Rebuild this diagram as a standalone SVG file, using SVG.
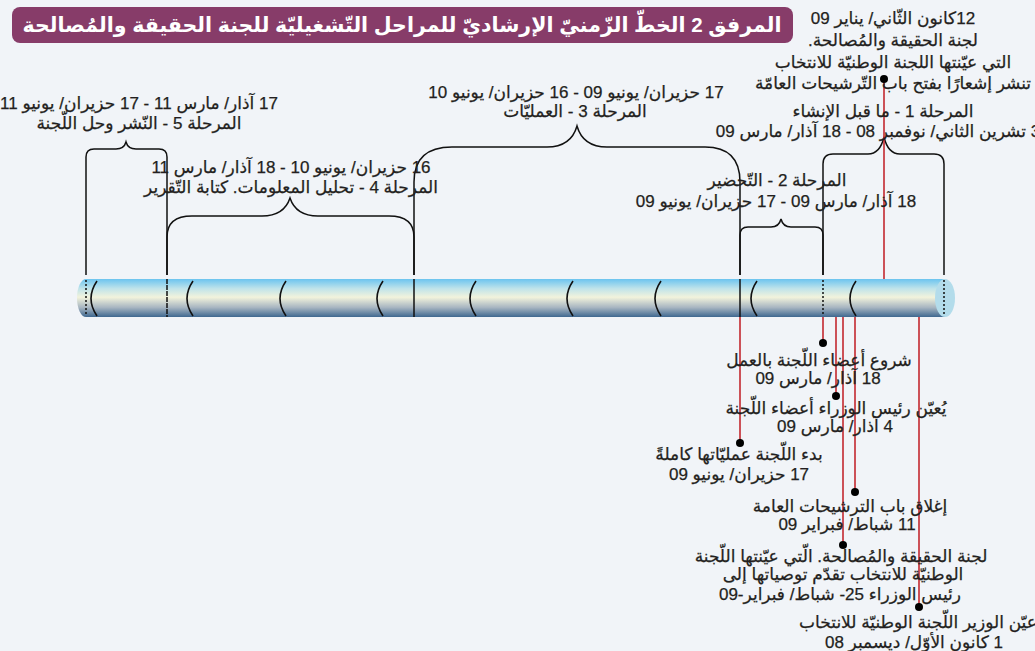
<svg xmlns="http://www.w3.org/2000/svg" width="1035" height="651" viewBox="0 0 1035 651">
<defs>
<linearGradient id="bar" x1="0" y1="0" x2="0" y2="1">
<stop offset="0" stop-color="#6cc4ef"/>
<stop offset="0.25" stop-color="#bfe3ea"/>
<stop offset="0.48" stop-color="#f2f3dc"/>
<stop offset="0.75" stop-color="#a7b5c1"/>
<stop offset="1" stop-color="#3f6890"/>
</linearGradient>
<style>
.t{font-family:"Liberation Sans","DejaVu Sans",sans-serif;font-size:17px;fill:#231f20;stroke:#231f20;stroke-width:0.25;text-anchor:middle;direction:rtl;unicode-bidi:embed}
.title{font-family:"Liberation Sans","DejaVu Sans",sans-serif;font-size:20.5px;font-weight:bold;fill:#fff;text-anchor:middle;direction:rtl;unicode-bidi:embed}
.br{fill:none;stroke:#111;stroke-width:1.5}
.arc{fill:none;stroke:#111;stroke-width:1.6}
.red{stroke:#c3282f;stroke-width:1.6;fill:none}
.dot{fill:#000}
</style>
</defs>
<rect width="1035" height="651" fill="#f1f4f8"/>
<g id="title">
<rect x="12" y="7" width="781" height="36" rx="8" fill="#873c69"/>
<text class="title" x="402" y="32">المرفق 2 الخطّ الزّمنيّ الإرشاديّ للمراحل التّشغيليّة للجنة الحقيقة والمُصالحة</text>
</g>
<g id="timeline">
<path d="M86,279 H945 V317 H86 A9,19 0 0 1 86,279 Z" fill="url(#bar)"/>
<ellipse cx="945" cy="298" rx="10" ry="19" fill="#b3dceb"/>
<path class="arc" d="M97,281 Q85,298.5 97,316 M193,281 Q181,298.5 193,316 M286,281 Q274,298.5 286,316 M383,281 Q371,298.5 383,316 M476,281 Q464,298.5 476,316 M573,281 Q561,298.5 573,316 M661,281 Q649,298.5 661,316 M757,281 Q745,298.5 757,316 M856,281 Q844,298.5 856,316"/>
<g stroke="#111" stroke-width="1.5">
<line x1="86" y1="280" x2="86" y2="316" stroke-dasharray="2,2"/>
<line x1="167" y1="279" x2="167" y2="317" stroke-dasharray="5,1"/>
<line x1="414" y1="279" x2="414" y2="317"/>
<line x1="740" y1="279" x2="740" y2="317"/>
<line x1="823" y1="280" x2="823" y2="316" stroke-dasharray="2,2"/>
<line x1="944" y1="280" x2="944" y2="316" stroke-dasharray="2,2"/>
</g>
</g>
<g id="connectors">
<path class="br" d="M86,275 V157 Q86,149 94,149 H116 Q124,149 126,142 Q128,149 136,149 H159 Q167,149 167,157 V275"/>
<path class="br" d="M167,275 V237 Q167,216 192,216 H262 Q284,216 290,198 Q296,216 318,216 H389 Q414,216 414,237 V275"/>
<path class="br" d="M414,275 V182 Q414,147 452,147 H547 Q571,147 577,126 Q583,147 607,147 H705 Q740,147 740,182 V275"/>
<path class="br" d="M740,275 V235 Q740,227 748,227 H771 Q779,227 781,219 Q783,227 791,227 H815 Q823,227 823,235 V275"/>
<path class="br" d="M823,275 V164 Q823,154 833,154 H868 Q880,154 884,137 Q888,154 900,154 H934 Q944,154 944,164 V275"/>
<line class="red" x1="884" y1="79" x2="884" y2="279"/>
<line class="red" x1="740" y1="317" x2="740" y2="443"/>
<line class="red" x1="823" y1="317" x2="823" y2="343"/>
<line class="red" x1="836" y1="317" x2="836" y2="396"/>
<line class="red" x1="843" y1="317" x2="843" y2="545"/>
<line class="red" x1="855" y1="317" x2="855" y2="492"/>
<line class="red" x1="919" y1="317" x2="919" y2="607"/>
<circle class="dot" cx="884" cy="79" r="4"/>
<circle class="dot" cx="823" cy="343" r="4"/>
<circle class="dot" cx="836" cy="396" r="4"/>
<circle class="dot" cx="740" cy="443" r="4"/>
<circle class="dot" cx="855" cy="492" r="4"/>
<circle class="dot" cx="843" cy="545" r="4"/>
<circle class="dot" cx="919" cy="607" r="4"/>
</g>
<g id="event-jan09">
<text class="t" x="893" y="24">12كانون الثّاني/ يناير 09</text>
<text class="t" x="893" y="46">لجنة الحقيقة والمُصالحة.</text>
<text class="t" x="893" y="68">التي عيّنتها اللجنة الوطنيّة للانتخاب</text>
<text class="t" x="893" y="89">تنشر إشعارًا بفتح باب التّرشيحات العامّة</text>
</g>
<g id="phase1">
<text class="t" x="883" y="117">المرحلة 1 - ما قبل الإنشاء</text>
<text class="t" x="878" y="137">3 تشرين الثاني/ نوفمبر 08 - 18 آذار/ مارس 09</text>
</g>
<g id="phase2">
<text class="t" x="777" y="186">المرحلة 2 - التّحضير</text>
<text class="t" x="776" y="207">18 آذار/ مارس 09 - 17 حزيران/ يونيو 09</text>
</g>
<g id="phase3">
<text class="t" x="576" y="98">17 حزيران/ يونيو 09 - 16 حزيران/ يونيو 10</text>
<text class="t" x="575" y="117">المرحلة 3 - العمليّات</text>
</g>
<g id="phase4">
<text class="t" x="291" y="173">16 حزيران/ يونيو 10 - 18 آذار/ مارس 11</text>
<text class="t" x="291" y="193">المرحلة 4 - تحليل المعلومات. كتابة التّقرير</text>
</g>
<g id="phase5">
<text class="t" x="139" y="109">17 آذار/ مارس 11 - 17 حزيران/ يونيو 11</text>
<text class="t" x="139" y="129">المرحلة 5 - النّشر وحل اللّجنة</text>
</g>
<g id="event-start">
<text class="t" x="819" y="366">شروع أعضاء اللّجنة بالعمل</text>
<text class="t" x="818" y="384">18 آذار/ مارس 09</text>
</g>
<g id="event-appoint">
<text class="t" x="836" y="414">يُعيّن رئيس الوزراء أعضاء اللّجنة</text>
<text class="t" x="835" y="432">4 آذار/ مارس 09</text>
</g>
<g id="event-full">
<text class="t" x="739" y="460">بدء اللّجنة عمليّاتها كاملةً</text>
<text class="t" x="739" y="480">17 حزيران/ يونيو 09</text>
</g>
<g id="event-close">
<text class="t" x="850" y="512">إغلاق باب الترشيحات العامة</text>
<text class="t" x="847" y="530">11 شباط/ فبراير 09</text>
</g>
<g id="event-recommend">
<text class="t" x="841" y="562">لجنة الحقيقة والمُصالحة. الّتي عيّنتها اللّجنة</text>
<text class="t" x="843" y="580">الوطنيّة للانتخاب تقدّم توصياتها إلى</text>
<text class="t" x="840" y="600">رئيس الوزراء 25- شباط/ فبراير-09</text>
</g>
<g id="event-dec08">
<text class="t" x="918" y="628">عيّن الوزير اللّجنة الوطنيّة للانتخاب</text>
<text class="t" x="914" y="648">1 كانون الأوّل/ ديسمبر 08</text>
</g>
</svg>
